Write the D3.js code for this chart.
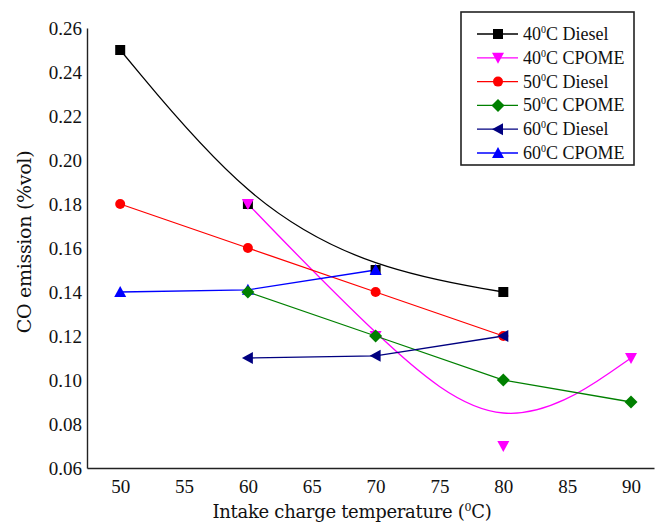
<!DOCTYPE html>
<html>
<head>
<meta charset="utf-8">
<script src="https://cdn.jsdelivr.net/npm/d3@7"></script>
<style>
  body { margin: 0; background: #fff; }
  text { font-family: "Liberation Serif", "DejaVu Serif", serif; fill: #111; }
</style>
</head>
<body>
<div id="chart"></div>
<script>
// chart values
var seriesNames = ["Diesel", "CPOME", "Diesel", "CPOME", "Diesel", "CPOME"];
var seriesTemps = ["40", "40", "50", "50", "60", "60"];
var seriesColors = ["#000000", "#ff00ff", "#ff0000", "#008000", "#000080", "#0000ff"];
var seriesSymbols = ["square", "triDown", "circle", "diamond", "triLeft", "triUp"];
var seriesSmooth = [true, true, false, false, false, false];

var x40Diesel = [50, 60, 70, 80],  y40Diesel = [0.25, 0.18, 0.15, 0.14];
var x40Cpome  = [60, 70, 80, 90],  y40Cpome  = [0.18, 0.12, 0.07, 0.11];
var x50Diesel = [50, 60, 70, 80],  y50Diesel = [0.18, 0.16, 0.14, 0.12];
var x50Cpome  = [60, 70, 80, 90],  y50Cpome  = [0.14, 0.12, 0.10, 0.09];
var x60Diesel = [60, 70, 80],      y60Diesel = [0.11, 0.111, 0.12];
var x60Cpome  = [50, 60, 70],      y60Cpome  = [0.14, 0.141, 0.15];

var xTicks = [50, 55, 60, 65, 70, 75, 80, 85, 90];
var yTicks = [0.06, 0.08, 0.10, 0.12, 0.14, 0.16, 0.18, 0.20, 0.22, 0.24, 0.26];

var xs = [x40Diesel, x40Cpome, x50Diesel, x50Cpome, x60Diesel, x60Cpome];
var ys = [y40Diesel, y40Cpome, y50Diesel, y50Cpome, y60Diesel, y60Cpome];

var series = seriesNames.map(function(n, i) {
    return {
        temp: seriesTemps[i], name: n, color: seriesColors[i],
        symbol: seriesSymbols[i], smooth: seriesSmooth[i],
        points: xs[i].map(function(v, j) { return {x: v, y: ys[i][j]}; })
    };
});

var width = 659, height = 527;
var svg = d3.select("#chart").append("svg")
    .attr("width", width).attr("height", height);

var x = d3.scaleLinear().domain([47.4, 91.8]).range([87, 654]);
var y = d3.scaleLinear().domain([0.06, 0.26]).range([468, 28]);

// axes - no tick marks, just labels
var xAxis = svg.append("g")
    .attr("transform", "translate(0," + y(0.06) + ")")
    .call(d3.axisBottom(x).tickValues(xTicks).tickSize(0).tickPadding(12));
var yAxis = svg.append("g")
    .attr("transform", "translate(" + x(47.4) + ",0)")
    .call(d3.axisLeft(y).tickValues(yTicks).tickSize(0).tickPadding(5)
        .tickFormat(d3.format(".2f")));

[xAxis, yAxis].forEach(function(a) {
    a.select(".domain").attr("stroke", "#222").attr("stroke-width", 1.4);
    a.selectAll("text").style("font-size", "19px").attr("fill", "#111")
        .style("font-family", "'Liberation Serif', serif");
});
xAxis.selectAll("text").attr("dx", 0);

// symbol paths
function symbolPath(kind) {
    if (kind === "square") return "M-5,-5h10v10h-10z";
    if (kind === "circle") return "M-5,0a5,5 0 1,0 10,0a5,5 0 1,0 -10,0";
    if (kind === "diamond") return "M0,-6.5L6.5,0L0,6.5L-6.5,0z";
    if (kind === "triUp") return "M0,-6L6,5L-6,5z";
    if (kind === "triDown") return "M0,6L6,-5L-6,-5z";
    if (kind === "triLeft") return "M-6,0L5,-6L5,6z";
    return "";
}

var lineStraight = d3.line().x(function(d) { return x(d.x); }).y(function(d) { return y(d.y); });
var lineSmooth = d3.line().curve(d3.curveBasis)
    .x(function(d) { return x(d.x); }).y(function(d) { return y(d.y); });

svg.selectAll("path.link")
    .data(series)
    .enter().append("path")
    .attr("class", "link")
    .attr("fill", "none")
    .attr("stroke", function(d) { return d.color; })
    .attr("stroke-width", 1.3)
    .attr("d", function(d) { return (d.smooth ? lineSmooth : lineStraight)(d.points); });

// marker draw order so overlapping points look like the picture
var markerOrder = [0, 1, 2, 5, 3, 4];
markerOrder.forEach(function(i) {
    var s = series[i];
    svg.append("g").selectAll("path")
        .data(s.points)
        .enter().append("path")
        .attr("d", symbolPath(s.symbol))
        .attr("fill", s.color)
        .attr("transform", function(d) { return "translate(" + x(d.x) + "," + y(d.y) + ")"; });
});

// axis titles
svg.append("text")
    .attr("x", 352).attr("y", 518)
    .attr("text-anchor", "middle")
    .style("font-family", "'DejaVu Serif', serif")
    .style("font-size", "18px")
    .style("letter-spacing", "-0.3px")
    .html("Intake charge temperature (<tspan dy='-7' font-size='11px'>0</tspan><tspan dy='7'>C)</tspan>");

svg.append("text")
    .attr("transform", "translate(31,242) rotate(-90)")
    .attr("text-anchor", "middle")
    .style("font-family", "'DejaVu Serif', serif")
    .style("font-size", "19px")
    .style("letter-spacing", "-0.3px")
    .text("CO emission (%vol)");

// legend
var legend = svg.append("g").attr("transform", "translate(461,12)");
legend.append("rect")
    .attr("width", 173).attr("height", 153)
    .attr("fill", "#fff").attr("stroke", "#222").attr("stroke-width", 1.6);

var item = legend.selectAll("g.item")
    .data(series)
    .enter().append("g")
    .attr("class", "item")
    .attr("transform", function(d, i) { return "translate(0," + (22 + i * 23.8) + ")"; });

item.append("line")
    .attr("x1", 16).attr("x2", 57)
    .attr("stroke", function(d) { return d.color; })
    .attr("stroke-width", 1.3);
item.append("path")
    .attr("d", function(d) { return symbolPath(d.symbol); })
    .attr("fill", function(d) { return d.color; })
    .attr("transform", "translate(37,0)");
item.append("text")
    .attr("x", 62).attr("y", 6)
    .style("font-size", "18px")
    .html(function(d) {
        return d.temp + "<tspan dy='-7' font-size='10px'>0</tspan><tspan dy='7'>C " + d.name + "</tspan>";
    });
</script>
</body>
</html>
